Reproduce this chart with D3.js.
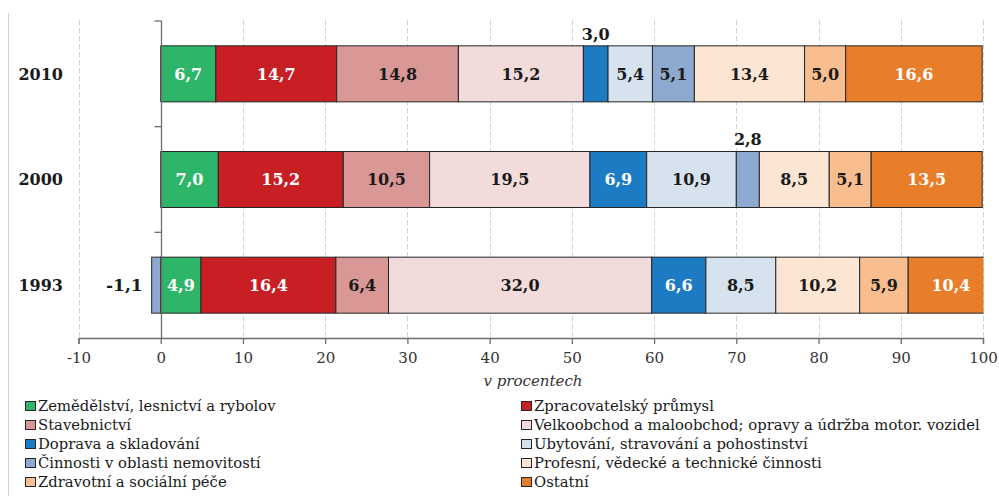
<!DOCTYPE html>
<html>
<head>
<meta charset="utf-8">
<script src="https://cdn.jsdelivr.net/npm/d3@7"></script>
<style>
  html, body { margin: 0; padding: 0; background: #fff; }
  svg { display: block; font-family: "DejaVu Serif", "Liberation Serif", serif; }
</style>
</head>
<body>
<svg id="chart" width="999" height="496"></svg>
<script>
// Struktura podle odvětví (v procentech), roky 1993, 2000, 2010
const years = ["2010", "2000", "1993"];
const sectors = [
  "Zemědělství, lesnictví a rybolov",
  "Zpracovatelský průmysl",
  "Stavebnictví",
  "Velkoobchod a maloobchod; opravy a údržba motor. vozidel",
  "Doprava a skladování",
  "Ubytování, stravování a pohostinství",
  "Činnosti v oblasti nemovitostí",
  "Profesní, vědecké a technické činnosti",
  "Zdravotní a sociální péče",
  "Ostatní"
];
const values2010 = [6.7, 14.7, 14.8, 15.2, 3.0, 5.4, 5.1, 13.4, 5.0, 16.6];
const values2000 = [7.0, 15.2, 10.5, 19.5, 6.9, 10.9, 2.8, 8.5, 5.1, 13.5];
const values1993 = [4.9, 16.4, 6.4, 32.0, 6.6, 8.5, -1.1, 10.2, 5.9, 10.4];
const sectorColors = ["#2db66a", "#c81f25", "#d99795", "#f2dbdb", "#1c7bc2",
                      "#d6e3ee", "#8ea9cf", "#fde5d4", "#f8be90", "#e97e2a"];
const labelColors = ["#fff", "#fff", "#1a1a1a", "#1a1a1a", "#fff",
                     "#1a1a1a", "#1a1a1a", "#1a1a1a", "#1a1a1a", "#fff"];
const xTicks = [-10, 0, 10, 20, 30, 40, 50, 60, 70, 80, 90, 100];
const axisTitle = "v procentech";

const rows = [values2010, values2000, values1993].map((vals, i) => {
  const r = { year: years[i] };
  sectors.forEach((s, j) => r[s] = vals[j]);
  return r;
});

const svg = d3.select("#chart");
const plotTop = 21, plotBottom = 338;

const x = d3.scaleLinear().domain([-10, 100]).range([78.5, 983]);
const y = d3.scaleBand().domain(years).range([plotTop, plotBottom])
  .paddingInner(0.47).paddingOuter(0.235);

// decimal comma, plain hyphen for negatives
const fmt = v => (v < 0 ? "-" : "") + Math.abs(v).toFixed(1).replace(".", ",");

// outer frame line on the left
svg.append("line").attr("x1", 8.5).attr("x2", 8.5).attr("y1", 13).attr("y2", 496)
  .attr("stroke", "#d0d0d0").attr("stroke-width", 1);

// dashed vertical gridlines
svg.append("g").selectAll("line").data(xTicks.filter(t => t !== 0)).join("line")
  .attr("x1", d => Math.round(x(d)) + 0.5).attr("x2", d => Math.round(x(d)) + 0.5)
  .attr("y1", plotTop - 1).attr("y2", plotBottom)
  .attr("stroke", "#d4d4d4").attr("stroke-dasharray", "5,3");

// stacked bars (negative values diverge to the left of zero)
const stack = d3.stack().keys(sectors).offset(d3.stackOffsetDiverging);
const series = stack(rows);

svg.append("clipPath").attr("id", "plotClip").append("rect")
  .attr("x", x(-10)).attr("y", 0).attr("width", x(100) - x(-10) + 0.5).attr("height", 496);

const barsG = svg.append("g").attr("clip-path", "url(#plotClip)");
series.forEach((s, si) => {
  barsG.append("g").attr("fill", sectorColors[si])
    .selectAll("rect").data(s).join("rect")
    .attr("x", d => x(Math.min(d[0], d[1])))
    .attr("y", d => y(d.data.year))
    .attr("width", d => Math.abs(x(d[1]) - x(d[0])))
    .attr("height", y.bandwidth())
    .attr("stroke", "#262626").attr("stroke-width", 1);
});

// value labels
const labelG = svg.append("g").attr("font-weight", "bold").attr("font-size", 16);
series.forEach((s, si) => {
  s.forEach(d => {
    const v = d.data[sectors[si]];
    const x0 = Math.min(d[0], d[1]), x1 = Math.max(d[0], d[1]);
    const yc = y(d.data.year) + y.bandwidth() / 2;
    if (v < 0) {
      labelG.append("text").attr("x", x(x0) - 9).attr("y", yc).attr("dy", "0.36em")
        .attr("text-anchor", "end").attr("font-size", 17).attr("fill", "#1a1a1a").text(fmt(v));
    } else if (v < 4) {
      labelG.append("text").attr("x", x((x0 + x1) / 2)).attr("y", y(d.data.year) - 6)
        .attr("text-anchor", "middle").attr("fill", "#1a1a1a").text(fmt(v));
    } else {
      labelG.append("text").attr("x", x((x0 + x1) / 2)).attr("y", yc).attr("dy", "0.36em")
        .attr("text-anchor", "middle").attr("fill", labelColors[si]).text(fmt(v));
    }
  });
});

// category axis at zero
const zx = Math.round(x(0)) + 0.5;
svg.append("line").attr("x1", zx).attr("x2", zx).attr("y1", plotTop).attr("y2", plotBottom)
  .attr("stroke", "#6e6e6e").attr("stroke-width", 1.3);
const bounds = years.map(yr => y(yr) - y.step() * y.paddingInner() / 2);
bounds[0] = plotTop;
svg.append("g").selectAll("line").data(bounds).join("line")
  .attr("x1", zx - 7).attr("x2", zx).attr("y1", d => d).attr("y2", d => d)
  .attr("stroke", "#6e6e6e").attr("stroke-width", 1.3);

// year labels
svg.append("g").selectAll("text").data(years).join("text")
  .attr("x", 63).attr("y", d => y(d) + y.bandwidth() / 2).attr("dy", "0.36em")
  .attr("text-anchor", "end").attr("font-weight", "bold").attr("font-size", 16)
  .attr("fill", "#1a1a1a").text(d => d);

// value axis
const xAxis = d3.axisBottom(x).tickValues(xTicks).tickSize(6).tickPadding(8)
  .tickFormat(d => String(d));
const ax = svg.append("g").attr("transform", `translate(0,${plotBottom})`).call(xAxis);
ax.select(".domain").attr("stroke", "#6e6e6e").attr("stroke-width", 1.3);
ax.selectAll(".tick line").attr("stroke", "#6e6e6e").attr("stroke-width", 1.3);
ax.selectAll(".tick text").attr("font-family", "DejaVu Serif, serif")
  .attr("font-size", 15).attr("fill", "#333");

svg.append("text").attr("x", 533).attr("y", 386).attr("text-anchor", "middle")
  .attr("font-style", "italic").attr("font-size", 15).attr("fill", "#333").text(axisTitle);

// legend in two columns
const legend = svg.append("g").attr("font-size", 14.8).attr("fill", "#1a1a1a");
sectors.forEach((s, i) => {
  const col = i % 2, row = Math.floor(i / 2);
  const lx = col === 0 ? 25 : 521;
  const ly = 406 + row * 19;
  legend.append("rect").attr("x", lx + 0.5).attr("y", ly - 4.5).attr("width", 10).attr("height", 9)
    .attr("fill", sectorColors[i]).attr("stroke", "#262626").attr("stroke-width", 1);
  legend.append("text").attr("x", lx + 13).attr("y", ly).attr("dy", "0.36em").text(s);
});
</script>
</body>
</html>
